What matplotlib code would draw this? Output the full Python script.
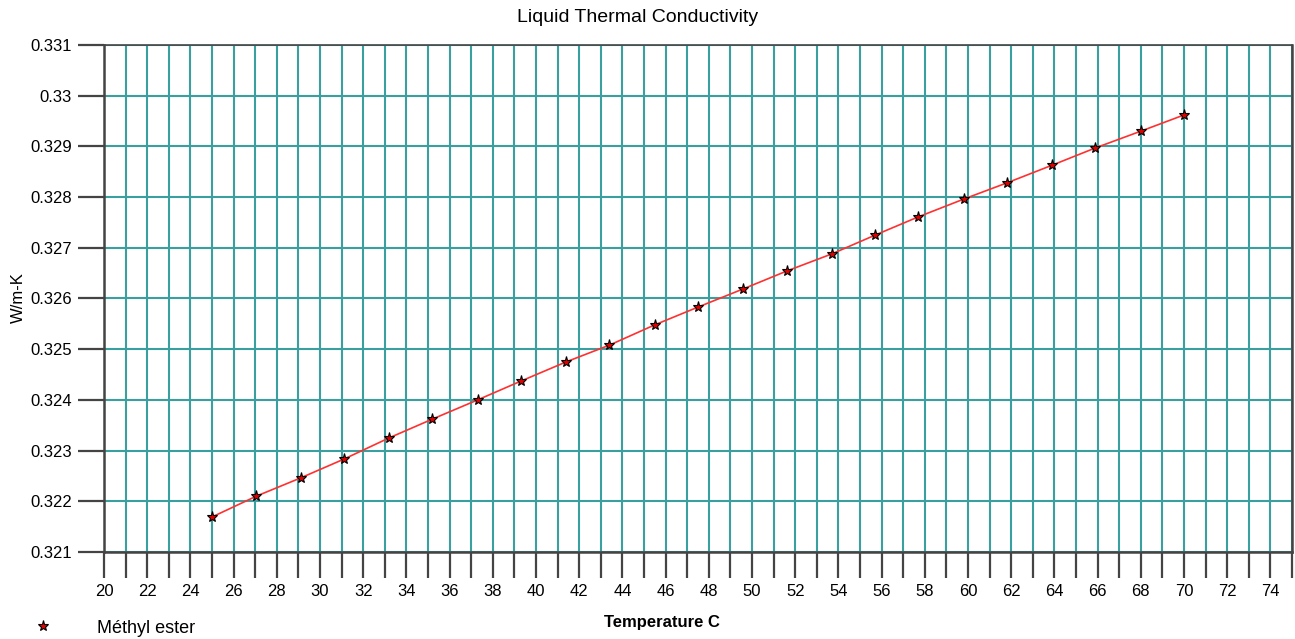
import numpy as np
import matplotlib.pyplot as plt
from matplotlib.lines import Line2D

plt.rcParams['font.family'] = ['Liberation Sans', 'DejaVu Sans']

# temperatura (C) y conductividad (W/m-K)
temps = [25.0, 27.05, 29.1, 31.1, 33.2, 35.2, 37.3, 39.3, 41.4, 43.4, 45.5, 47.5,
         49.6, 51.6, 53.7, 55.7, 57.7, 59.8, 61.8, 63.9, 65.9, 68.0, 70.0]
conductivity = [0.32169, 0.3221, 0.32246, 0.32283, 0.32325, 0.32362, 0.3240, 0.32437,
                0.32475, 0.32508, 0.32548, 0.32583, 0.32619, 0.32654, 0.32688, 0.32725,
                0.32761, 0.32796, 0.32828, 0.32863, 0.32897, 0.3293, 0.32962]
series_name = "Méthyl ester"

x_ticks = np.arange(20, 76, 1)
x_labels = [str(v) if v % 2 == 0 and v < 75 else "" for v in x_ticks]
y_ticks = [0.321, 0.322, 0.323, 0.324, 0.325, 0.326, 0.327, 0.328, 0.329, 0.33, 0.331]
y_labels = ["0.321", "0.322", "0.323", "0.324", "0.325", "0.326", "0.327", "0.328",
            "0.329", "0.33", "0.331"]

grid_color = '#3a9f9f'
axis_color = '#444444'

fig = plt.figure(figsize=(12.95, 6.39), dpi=100)
ax = fig.add_axes([0.0803, 0.1362, 0.9174, 0.7934])

ax.plot(temps, conductivity, color='#ff3030', linewidth=1.2, zorder=3)
ax.plot(temps, conductivity, linestyle='none', marker='*', markersize=8,
        markerfacecolor='#e00000', markeredgecolor='black', markeredgewidth=0.8, zorder=4)

ax.set_xlim(20, 75)
ax.set_ylim(0.321, 0.331)
ax.set_xticks(x_ticks)
ax.set_xticklabels(x_labels)
ax.set_yticks(y_ticks)
ax.set_yticklabels(y_labels)
ax.grid(True, color=grid_color, linewidth=1.5, zorder=1)
ax.set_axisbelow(True)

ax.tick_params(axis='both', length=19, width=1.6, color=axis_color,
               labelsize=12, pad=4)
for side in ['left', 'bottom', 'right', 'top']:
    ax.spines[side].set_color(axis_color)
    ax.spines[side].set_linewidth(1.8)
ax.spines['top'].set_linewidth(1.2)

fig.text(0.4927, 0.972, "Liquid Thermal Conductivity", ha='center', va='center', fontsize=14)
fig.text(0.014, 0.535, "W/m-K", rotation=90, ha='center', va='center', fontsize=12)
fig.text(0.511, 0.026, "Temperature C", ha='center', va='center', fontsize=12,
         fontweight='bold')

handle = Line2D([], [], linestyle='none', marker='*', markersize=8,
                markerfacecolor='#e00000', markeredgecolor='black', markeredgewidth=0.8)
fig.legend([handle], [series_name], loc='center left', bbox_to_anchor=(0.022, 0.017),
           frameon=False, fontsize=13, handletextpad=2.6, handlelength=0.8,
           borderaxespad=0)

fig.savefig("out.png", dpi=100)
